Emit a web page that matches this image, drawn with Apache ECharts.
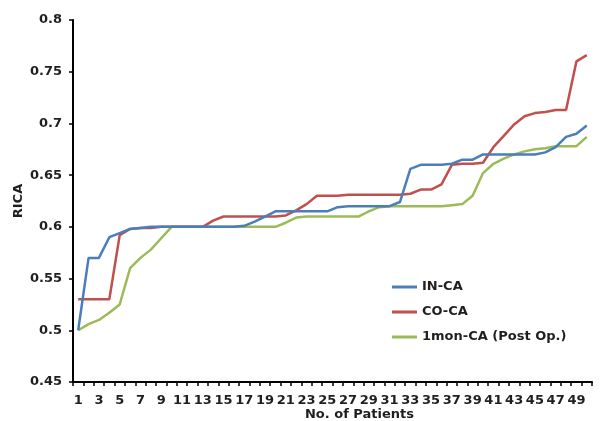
<!DOCTYPE html>
<html>
<head>
<meta charset="utf-8">
<script src="https://cdn.jsdelivr.net/npm/echarts@6/dist/echarts.min.js"></script>
<style>html,body{margin:0;padding:0;background:#fff}#c{width:605px;height:421px}</style>
</head>
<body>
<div id="c"></div>
<script>
var patients = [];
for (var k = 1; k <= 50; k++) patients.push(String(k));

var inCA = [0.500,0.570,0.570,0.590,0.594,0.598,0.599,0.600,0.600,0.600,
            0.600,0.600,0.600,0.600,0.600,0.600,0.601,0.605,0.610,0.615,
            0.615,0.615,0.615,0.615,0.615,0.619,0.620,0.620,0.620,0.620,
            0.620,0.624,0.656,0.660,0.660,0.660,0.661,0.665,0.665,0.670,
            0.670,0.670,0.670,0.670,0.670,0.672,0.677,0.687,0.690,0.698];

var coCA = [0.530,0.530,0.530,0.530,0.592,0.598,0.599,0.599,0.600,0.600,
            0.600,0.600,0.600,0.606,0.610,0.610,0.610,0.610,0.610,0.610,
            0.611,0.616,0.622,0.630,0.630,0.630,0.631,0.631,0.631,0.631,
            0.631,0.631,0.632,0.636,0.636,0.641,0.660,0.661,0.661,0.662,
            0.677,0.688,0.699,0.707,0.710,0.711,0.713,0.713,0.760,0.766];

var monCA = [0.500,0.506,0.510,0.517,0.525,0.560,0.570,0.578,0.589,0.600,
             0.600,0.600,0.600,0.600,0.600,0.600,0.600,0.600,0.600,0.600,
             0.604,0.609,0.610,0.610,0.610,0.610,0.610,0.610,0.615,0.619,
             0.620,0.620,0.620,0.620,0.620,0.620,0.621,0.622,0.630,0.652,
             0.661,0.666,0.670,0.673,0.675,0.676,0.678,0.678,0.678,0.687];

var seriesNames = ['IN-CA', 'CO-CA', '1mon-CA (Post Op.)'];
var colors = ['#4A7EBB', '#C0504D', '#9BBB59'];

var chart = echarts.init(document.getElementById('c'), null, {renderer: 'canvas'});
var font = 'DejaVu Sans, sans-serif';
var txt = '#1f1f1f';
chart.setOption({
  animation: false,
  color: colors,
  grid: {left: 73, right: 13, top: 20, bottom: 39, containLabel: false, outerBoundsMode: 'none'},
  legend: {
    orient: 'vertical',
    left: 387,
    top: 274,
    itemWidth: 25,
    itemHeight: 3,
    itemGap: 9,
    icon: 'rect',
    textStyle: {fontFamily: font, fontWeight: 'bold', fontSize: 13, lineHeight: 16, color: txt},
    data: seriesNames
  },
  xAxis: {
    type: 'category',
    data: patients,
    boundaryGap: true,
    name: 'No. of Patients',
    nameLocation: 'middle',
    nameGap: 26,
    nameMoveOverlap: false,
    nameTextStyle: {fontFamily: font, fontWeight: 'bold', fontSize: 13, color: txt, padding: [0, 0, 0, 54]},
    axisLine: {lineStyle: {color: '#000', width: 2}},
    axisTick: {show: true, interval: 0, length: 4, lineStyle: {color: '#000', width: 1.5}},
    axisLabel: {interval: 1, margin: 12, fontFamily: font, fontWeight: 'bold', fontSize: 13, color: txt},
    splitLine: {show: false}
  },
  yAxis: {
    type: 'value',
    min: 0.45,
    max: 0.8,
    interval: 0.05,
    name: 'RICA',
    nameLocation: 'middle',
    nameGap: 48,
    nameMoveOverlap: false,
    nameRotate: 90,
    nameTextStyle: {fontFamily: font, fontWeight: 'bold', fontSize: 13, color: txt},
    axisLine: {show: true, lineStyle: {color: '#000', width: 2}},
    axisTick: {show: true, length: 4, lineStyle: {color: '#000', width: 1.5}},
    axisLabel: {margin: 11, fontFamily: font, fontWeight: 'bold', fontSize: 13, color: txt,
      formatter: function (v) { return String(Math.round(v * 100) / 100); }},
    splitLine: {show: false}
  },
  series: [
    {name: seriesNames[0], type: 'line', data: inCA, symbol: 'none', lineStyle: {width: 2.5, color: colors[0]}, z: 3},
    {name: seriesNames[1], type: 'line', data: coCA, symbol: 'none', lineStyle: {width: 2.5, color: colors[1]}, z: 2},
    {name: seriesNames[2], type: 'line', data: monCA, symbol: 'none', lineStyle: {width: 2.5, color: colors[2]}, z: 1}
  ]
});
</script>
</body>
</html>
